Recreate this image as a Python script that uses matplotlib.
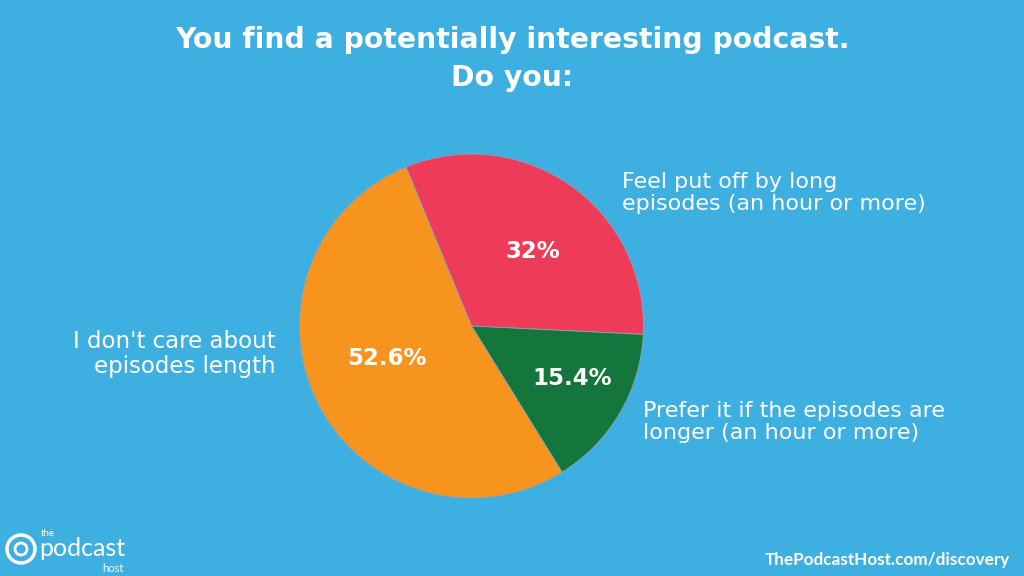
import numpy as np
import matplotlib
matplotlib.use('Agg')
import matplotlib.pyplot as plt
from matplotlib.patches import Ellipse

# chart data
labels = ["Feel put off by long\nepisodes (an hour or more)",
          "Prefer it if the episodes are\nlonger (an hour or more)",
          "I don't care about\nepisodes length"]
values = [32.0, 15.4, 52.6]
pct_text = ["32%", "15.4%", "52.6%"]
colors = ["#EE3B5A", "#14763C", "#F7941E"]

bg = "#3EAFE1"
plt.rcParams['font.family'] = ['DejaVu Sans']

fig = plt.figure(figsize=(10.24, 5.76), dpi=100, facecolor=bg)

# pie axes: centre (471, 326) px, radius 172 px
R = 172
cx, cy = 471.5, 326
ax = fig.add_axes([(cx - R) / 1024, (576 - cy - R) / 576, 2 * R / 1024, 2 * R / 576])
ax.set_facecolor(bg)
wedges, _ = ax.pie(values, colors=colors, startangle=112.4, counterclock=False,
                   wedgeprops=dict(edgecolor='#8aa6b8', linewidth=0.6))
ax.set_xlim(-1, 1)
ax.set_ylim(-1, 1)
ax.set_aspect('auto')
ax.axis('off')

# percentage labels inside slices
pct_dist = [0.56, 0.66, 0.53]
pct_shift = [-4, 3, -6]
for w, t, d, s in zip(wedges, pct_text, pct_dist, pct_shift):
    ang = np.deg2rad((w.theta1 + w.theta2) / 2 + s)
    ax.text(d * np.cos(ang), d * np.sin(ang), t, ha='center', va='center',
            color='white', fontsize=16.5, fontweight='bold')

# outside labels
fig.text(622 / 1024, 1 - 193 / 576, labels[0], ha='left', va='center',
         color='white', fontsize=16, linespacing=1.1)
fig.text(643 / 1024, 1 - 422 / 576, labels[1], ha='left', va='center',
         color='white', fontsize=16, linespacing=1.1)
fig.text(276 / 1024, 1 - 354 / 576, labels[2], ha='right', va='center',
         color='white', fontsize=16.5, linespacing=1.1)

# title
fig.text(0.5, 1 - 40 / 576, "You find a potentially interesting podcast.",
         ha='center', va='center', color='white', fontsize=20.3, fontweight='bold')
fig.text(0.5, 1 - 78 / 576, "Do you:",
         ha='center', va='center', color='white', fontsize=20.3, fontweight='bold')

# footer
fig.text(1010 / 1024, 1 - 560 / 576, "ThePodcastHost.com/discovery",
         ha='right', va='center', color='white', fontsize=12.3,
         fontweight='bold', family=['Lato', 'DejaVu Sans'])

# logo
for r, lw in [(14, 2.5), (6, 2)]:
    fig.add_artist(Ellipse((21 / 1024, 1 - 549 / 576), 2 * r / 1024, 2 * r / 576,
                           transform=fig.transFigure, fill=False,
                           edgecolor='white', linewidth=lw))
logo_font = ['Lato', 'DejaVu Sans']
fig.text(41 / 1024, 1 - 533 / 576, "the", ha='left', va='center',
         color='white', fontsize=7, family=logo_font)
fig.text(39 / 1024, 1 - 549 / 576, "podcast", ha='left', va='center',
         color='white', fontsize=18, family=logo_font)
fig.text(124 / 1024, 1 - 568 / 576, "host", ha='right', va='center',
         color='white', fontsize=8, family=logo_font)

fig.savefig('out.png', dpi=100, facecolor=bg)
